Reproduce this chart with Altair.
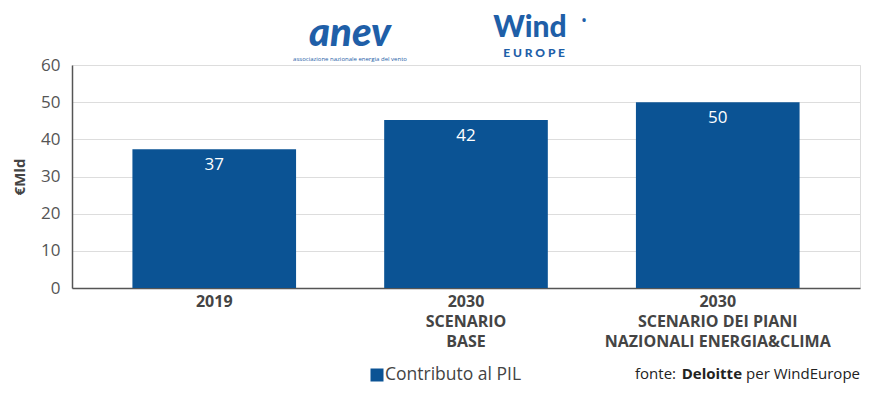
import altair as alt
import pandas as pd

categories = ["2019", "2030|SCENARIO|BASE", "2030|SCENARIO DEI PIANI|NAZIONALI ENERGIA&CLIMA"]
bar_values = [37.3, 45.2, 50.0]
value_labels = ["37", "42", "50"]
y_ticks = [0, 10, 20, 30, 40, 50, 60]
series_name = "Contributo al PIL"

BLUE = "#0b5394"
LOGO = "#1f5fa8"
FONT = "Open Sans"

df = pd.DataFrame({"cat": categories, "val": bar_values, "lab": value_labels})

x_enc = alt.X("cat:N", sort=categories, title=None,
              scale=alt.Scale(paddingInner=0.35, paddingOuter=0.24),
              axis=alt.Axis(labelExpr="split(datum.label, '|')", labelAngle=0, labelLimit=0,
                            labelFont=FONT, labelFontWeight="bold", labelFontSize=16,
                            labelColor="#444", labelLineHeight=20, labelPadding=5,
                            ticks=False, domainColor="#555", domainWidth=1.5, grid=False,
                            labelBaseline="top"))
y_enc = alt.Y("val:Q", title="€Mld",
              scale=alt.Scale(domain=[0, 60], nice=False),
              axis=alt.Axis(values=y_ticks, tickCount=7, labelOverlap=False, labelFont=FONT,
                            labelFontSize=17, labelColor="#555", labelPadding=12, ticks=False,
                            domainColor="#555", domainWidth=1.5, gridColor="#dddddd",
                            titleFont=FONT, titleFontWeight="bold", titleFontSize=15,
                            titleColor="#444", titlePadding=13))

base = alt.Chart(df).encode(x=x_enc, y=y_enc)
bars = base.mark_bar(color=BLUE)
labels = base.mark_text(color="white", font=FONT, fontSize=17, dy=16, baseline="middle").encode(
    text="lab:N")

one = pd.DataFrame({"a": [0]})
def txt(s, x, y, **kw):
    return alt.Chart(one).mark_text(text=s, **kw).encode(x=alt.value(x), y=alt.value(y))

legend_square = alt.Chart(one).mark_square(color=BLUE, size=169, opacity=1).encode(
    x=alt.value(305), y=alt.value(310))

deco = [
    txt("anev", 278, -19, font="Lato", fontSize=40, fontWeight=900, fontStyle="italic",
        color=LOGO, baseline="alphabetic"),
    txt("associazione nazionale energia del vento", 278, -6, font=FONT, fontSize=6, color=LOGO),
    txt("Wind", 458, -37, font="Lato", fontSize=30, fontWeight=900, color=LOGO),
    txt("E U R O P E", 462, -12, font="Lato", fontSize=12, fontWeight=900, color=LOGO),
    txt("•", 512, -44, font=FONT, fontSize=16, color=LOGO),
    legend_square,
    txt(series_name, 313, 310, font=FONT, fontSize=17.5, color="#444", align="left",
        baseline="middle"),
    txt("fonte:", 604, 309, font=FONT, fontSize=15, color="#222", align="right", baseline="middle"),
    txt("Deloitte", 670, 309, font=FONT, fontSize=15, fontWeight="bold", color="#222",
        align="right", baseline="middle"),
    txt("per WindEurope", 788, 309, font=FONT, fontSize=15, color="#222", align="right",
        baseline="middle"),
]

chart = alt.layer(bars, labels, *deco).properties(
    width=788, height=223,
    autosize=alt.AutoSizeParams(type="none"),
    padding={"left": 64, "top": 57, "right": 4, "bottom": 97},
).configure_view(stroke=None).configure(background="white")

chart.save("out.html", embed_options={"renderer": "svg", "actions": False})
